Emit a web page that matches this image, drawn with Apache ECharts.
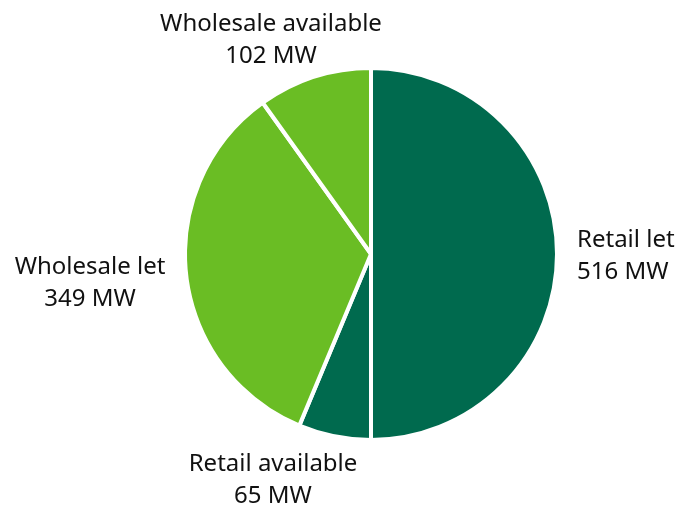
<!DOCTYPE html>
<html>
<head>
<meta charset="utf-8">
<script src="https://cdn.jsdelivr.net/npm/echarts@6/dist/echarts.min.js"></script>
<style>
html,body{margin:0;padding:0;background:#fff;}
#chart{width:675px;height:507px;}
</style>
</head>
<body>
<div id="chart"></div>
<script>
//数据
var names = ['Retail let', 'Retail available', 'Wholesale let', 'Wholesale available'];
var values = [516, 65, 349, 102];
var units = 'MW';

var colors = ['#006a4e', '#006a4e', '#6abd24', '#6abd24'];
// label placement (x, y of label centre / left edge)
var labelPos = [
	{x: 577, y: 256, align: 'left'},
	{x: 273, y: 480, align: 'center'},
	{x: 90, y: 283, align: 'center'},
	{x: 271, y: 40, align: 'center'}
];

function ChartInit(chartid){
	var myChart = echarts.init(document.getElementById(chartid));
	var data = [];
	for (var i = 0; i < names.length; i++) {
		data.push({
			name: names[i],
			value: values[i],
			itemStyle: {color: colors[i]},
			label: {align: labelPos[i].align}
		});
	}
	var option = {
		animation: false,
		series: [{
			type: 'pie',
			center: [371, 254],
			radius: 186,
			startAngle: 90,
			clockwise: true,
			itemStyle: {borderColor: '#fff', borderWidth: 4},
			label: {
				show: true,
				position: 'outside',
				overflow: 'none',
				formatter: function (p) { return p.name + '\n' + p.value + ' ' + units; },
				color: '#111',
				fontSize: 24,
				fontFamily: 'Noto Sans',
				lineHeight: 32
			},
			labelLine: {show: false},
			labelLayout: function (params) {
				var p = labelPos[params.dataIndex];
				return {x: p.x, y: p.y, align: p.align, verticalAlign: 'middle'};
			},
			data: data
		}]
	};
	myChart.setOption(option);
	return myChart;
}
ChartInit('chart');
</script>
</body>
</html>
